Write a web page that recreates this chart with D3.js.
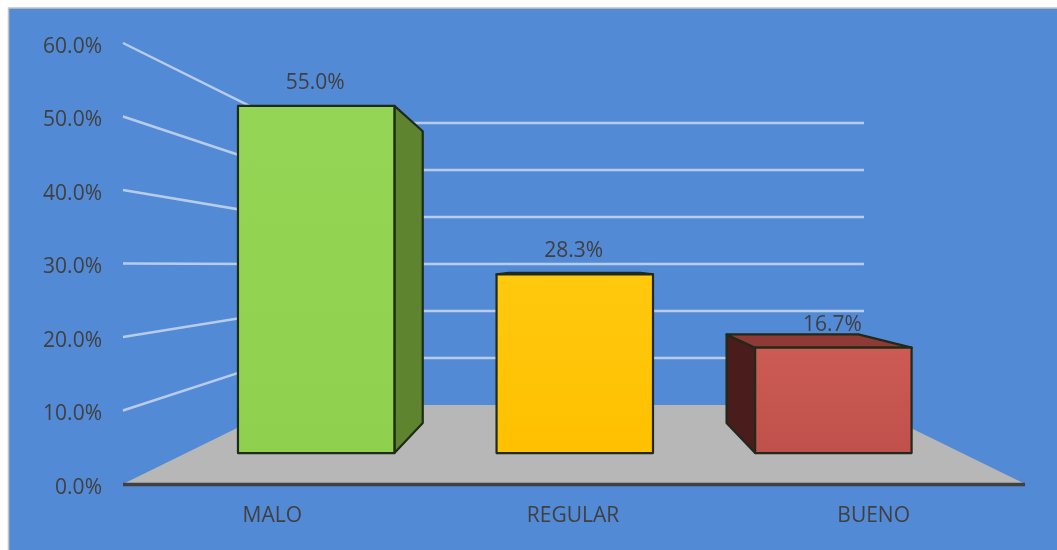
<!doctype html>
<html lang="es">
<head>
  <meta charset="utf-8">
  <title>MALO REGULAR BUENO</title>
  <style>
    html, body { margin: 0; padding: 0; background: #fff; overflow: hidden; }
    svg { display: block; filter: blur(0.45px); }
    text { font-family: "Open Sans", sans-serif; fill: #404040; }
  </style>
</head>
<body>
  <script src="https://cdn.jsdelivr.net/npm/d3@7"></script>
  <script>
    // Values
    const categories = ['MALO', 'REGULAR', 'BUENO'];
    const values = [55.0, 28.3, 16.7];
    const yTicks = [0, 10, 20, 30, 40, 50, 60];
    const gridTicks = [10, 20, 30, 40, 50, 60];

    // Colours per bar: front top, front bottom, side, top face
    const frontTop = ['#95d555', '#ffc90e', '#cc5b54'];
    const frontBottom = ['#8fd14f', '#ffc000', '#bf504b'];
    const sideColors = ['#5e8430', '#7f6000', '#4a1c1c'];
    const topColors = ['#6f9c3a', '#a67c00', '#8f3a36'];

    const w = 1057;
    const h = 550;
    const fontSize = 21;

    // Floor corners: t = 0 is the front edge, t = 1 is the back wall
    const floorFront = { left: 123, right: 1025, y: 484 };
    const floorBack = { left: 284, right: 864, y: 405 };
    const barFrontT = 0.392;
    const barBackT = 0.772;

    const yFront = d3.scaleLinear().domain([0, 60]).range([floorFront.y, 43]);
    const yBack = d3.scaleLinear().domain([0, 60]).range([floorBack.y, 123]);
    const xBand = d3.scaleBand().domain(categories).range([0.001, 1.001]).paddingInner(0.395).paddingOuter(0.1975);

    const lerp = (a, b, t) => a + (b - a) * t;
    const px = (u, t) => lerp(lerp(floorFront.left, floorBack.left, t), lerp(floorFront.right, floorBack.right, t), u);
    const py = (v, t) => lerp(yFront(v), yBack(v), t);

    const svg = d3.select('body').append('svg').attr('width', w).attr('height', h);

    const defs = svg.append('defs');
    categories.forEach((c, i) => {
      const g = defs.append('linearGradient').attr('id', `front-${i}`).attr('x1', 0).attr('y1', 0).attr('x2', 0).attr('y2', 1);
      g.append('stop').attr('offset', 0).attr('stop-color', frontTop[i]);
      g.append('stop').attr('offset', 1).attr('stop-color', frontBottom[i]);
    });

    // Chart area, runs off the right and bottom of the picture
    svg.append('rect').attr('x', 8.5).attr('y', 8).attr('width', w + 20).attr('height', h + 20)
      .attr('fill', '#538ad6').attr('stroke', '#c4c4c4').attr('stroke-width', 1.5);

    // Floor
    const poly = (pts) => pts.map((p) => p.join(',')).join(' ');
    svg.append('polygon')
      .attr('points', poly([[px(0, 0), py(0, 0)], [px(1, 0), py(0, 0)], [px(1, 1), py(0, 1)], [px(0, 1), py(0, 1)]]))
      .attr('fill', '#b7b7b7');

    // Gridlines on the side and back walls
    const grid = svg.append('g').attr('fill', 'none').attr('stroke', '#dfe6ee').attr('stroke-width', 2.5).attr('stroke-opacity', 0.72);
    grid.selectAll('path').data(gridTicks).enter().append('path')
      .attr('d', (d) => d3.line()([[px(0, 0), py(d, 0)], [px(0, 1), py(d, 1)], [px(1, 1), py(d, 1)]]));

    // Axis line
    svg.append('line')
      .attr('x1', px(0, 0)).attr('x2', px(1, 0))
      .attr('y1', py(0, 0) + 0.5).attr('y2', py(0, 0) + 0.5)
      .attr('stroke', '#404040').attr('stroke-width', 3.5);

    // Bars, only the faces the viewer can see
    const barOutline = '#1f2a18';
    const bars = svg.selectAll('g.bar').data(categories).enter().append('g').attr('class', 'bar')
      .attr('stroke', barOutline).attr('stroke-width', 2.2).attr('stroke-linejoin', 'round');

    bars.each(function (c, i) {
      const g = d3.select(this);
      const v = values[i];
      const u0 = xBand(c);
      const u1 = u0 + xBand.bandwidth();
      const tF = barFrontT;
      const tB = barBackT;

      if (px(u1, tB) > px(u1, tF)) {
        g.append('polygon').attr('fill', sideColors[i])
          .attr('points', poly([[px(u1, tF), py(v, tF)], [px(u1, tB), py(v, tB)], [px(u1, tB), py(0, tB)], [px(u1, tF), py(0, tF)]]));
      }
      if (px(u0, tB) < px(u0, tF)) {
        g.append('polygon').attr('fill', sideColors[i])
          .attr('points', poly([[px(u0, tF), py(v, tF)], [px(u0, tB), py(v, tB)], [px(u0, tB), py(0, tB)], [px(u0, tF), py(0, tF)]]));
      }
      if (py(v, tB) < py(v, tF)) {
        g.append('polygon').attr('fill', topColors[i])
          .attr('points', poly([[px(u0, tF), py(v, tF)], [px(u0, tB), py(v, tB)], [px(u1, tB), py(v, tB)], [px(u1, tF), py(v, tF)]]));
      }
      g.append('rect').attr('fill', `url(#front-${i})`)
        .attr('x', px(u0, tF)).attr('y', py(v, tF))
        .attr('width', px(u1, tF) - px(u0, tF)).attr('height', py(0, tF) - py(v, tF));

      svg.append('text')
        .attr('x', px((u0 + u1) / 2, tF) - 1).attr('y', py(v, tF) - 17)
        .attr('text-anchor', 'middle').attr('font-size', fontSize)
        .text(`${v.toFixed(1)}%`);
    });

    // Axes, labels only
    const yAxis = d3.axisLeft(yFront).tickValues(yTicks).tickFormat((d) => `${d.toFixed(1)}%`).tickSize(0).tickPadding(0);
    svg.append('g').attr('transform', 'translate(102,2.5)').call(yAxis)
      .call((g) => g.select('.domain').remove())
      .call((g) => g.selectAll('text').attr('font-size', fontSize).style('font-family', '"Open Sans", sans-serif').style('fill', '#404040'));

    const xFront = d3.scaleBand().domain(categories).range([floorFront.left, floorFront.right]);
    const xAxis = d3.axisBottom(xFront).tickSize(0).tickPadding(0);
    svg.append('g').attr('transform', 'translate(-1,507)').call(xAxis)
      .call((g) => g.select('.domain').remove())
      .call((g) => g.selectAll('text').attr('font-size', fontSize).style('font-family', '"Open Sans", sans-serif').style('fill', '#404040'));
  </script>
</body>
</html>
